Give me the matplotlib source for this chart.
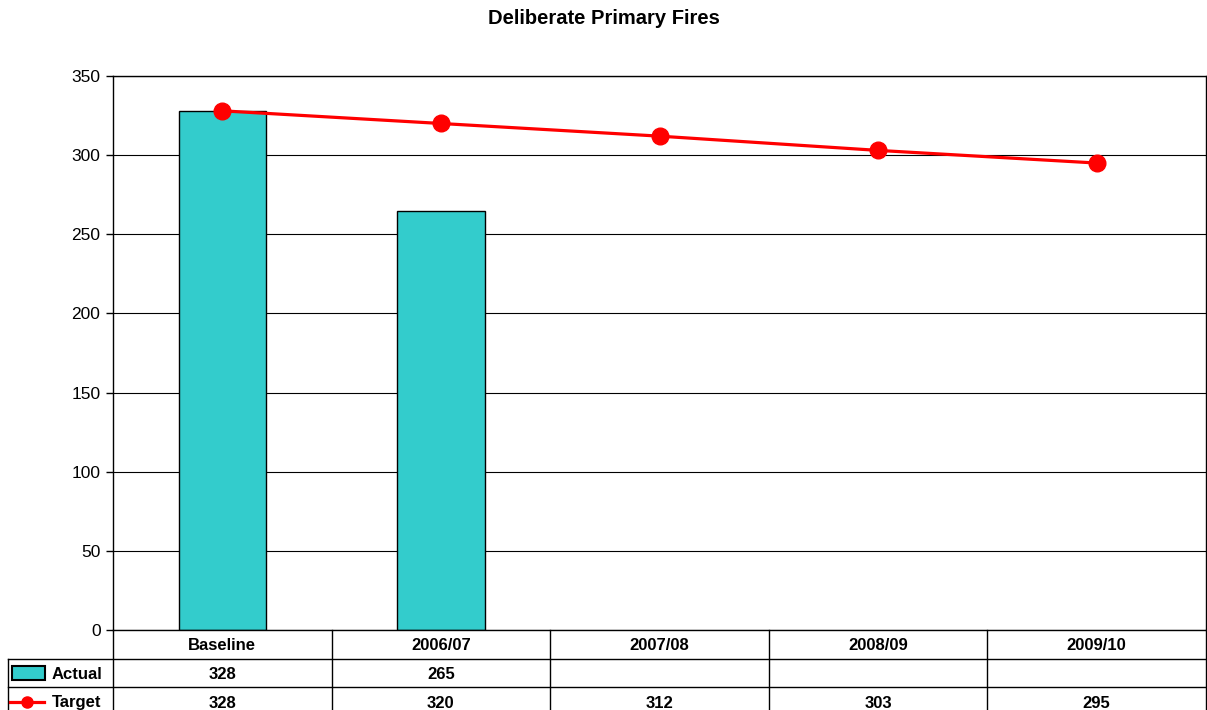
import matplotlib
matplotlib.use("Agg")
import matplotlib.pyplot as plt
from matplotlib.lines import Line2D
from matplotlib.patches import Rectangle
from matplotlib.transforms import blended_transform_factory

plt.rcParams["font.family"] = ["Liberation Sans", "DejaVu Sans"]

categories = ["Baseline", "2006/07", "2007/08", "2008/09", "2009/10"]
actual = [328, 265, None, None, None]
target = [328, 320, 312, 303, 295]

BAR_COLOR = "#33CCCC"
LINE_COLOR = "#FF0000"

fig = plt.figure(figsize=(12.07, 7.1), dpi=100)
ax = fig.add_axes([113 / 1207, 80 / 710, 1093 / 1207, 554 / 710])

xs = list(range(len(categories)))
bar_x = [x for x, v in zip(xs, actual) if v is not None]
bar_v = [v for v in actual if v is not None]
ax.bar(bar_x, bar_v, width=0.4, color=BAR_COLOR, edgecolor="black",
       linewidth=1, zorder=2)
ax.plot(xs, target, color=LINE_COLOR, lw=2.3, marker="o", markersize=12,
        zorder=3, clip_on=False)

ax.set_xlim(-0.5, len(categories) - 0.5)
ax.set_ylim(0, 350)
ax.set_yticks(range(0, 351, 50))
ax.set_xticks([])
ax.tick_params(axis="y", labelsize=12.5, length=5, width=1, direction="out",
               pad=4)
ax.yaxis.grid(True, color="black", lw=0.8)
ax.set_axisbelow(True)
for sp in ax.spines.values():
    sp.set_color("black")
    sp.set_linewidth(1)

fig.text(0.5, 1 - 19 / 710, "Deliberate Primary Fires", ha="center",
         va="center", fontsize=14.5, fontweight="bold")

# data table under the plot area: x in data units, y in axes units
tr = blended_transform_factory(ax.transData, ax.transAxes)
px = 1 / 554
row_edges = [0, -29 * px, -57 * px, -90 * px]
label_left = -0.5 - 105 / (1093 / len(categories))
right = len(categories) - 0.5

def hline(y, x0, x1):
    ax.add_line(Line2D([x0, x1], [y, y], transform=tr, color="black",
                       lw=1, clip_on=False))

def vline(x, y0, y1):
    ax.add_line(Line2D([x, x], [y0, y1], transform=tr, color="black",
                       lw=1, clip_on=False))

hline(row_edges[1], label_left, right)
hline(row_edges[2], label_left, right)
for i in range(len(categories) + 1):
    vline(i - 0.5, row_edges[0], row_edges[3])
vline(label_left, row_edges[1], row_edges[3])

def mid(r):
    return (row_edges[r] + row_edges[r + 1]) / 2

txt = dict(transform=tr, ha="center", va="center", fontsize=12,
           fontweight="bold")
for x, c, a, t in zip(xs, categories, actual, target):
    ax.text(x, mid(0) - 1 * px, c, **txt)
    if a is not None:
        ax.text(x, mid(1) - 1.5 * px, str(a), **txt)
    ax.text(x, mid(2) - 0.5 * px, str(t), **txt)

# legend keys in the row-label column
col_px = 1093 / len(categories)
def lx(p):
    return label_left + p / col_px

ax.add_patch(Rectangle((lx(4), mid(1) - 7 * px), 33 / col_px, 14 * px,
                       transform=tr, facecolor=BAR_COLOR, edgecolor="black",
                       lw=1.5, clip_on=False))
ax.text(lx(44), mid(1) - 1.5 * px, "Actual", transform=tr, ha="left",
        va="center", fontsize=12, fontweight="bold")
ky = row_edges[2] - 15 * px
ax.add_line(Line2D([lx(2), lx(36)], [ky, ky], transform=tr, color=LINE_COLOR,
                   lw=2.3, clip_on=False))
ax.add_line(Line2D([lx(19)], [ky], transform=tr, color=LINE_COLOR,
                   marker="o", markersize=8, clip_on=False))
ax.text(lx(44), ky - 1 * px, "Target", transform=tr, ha="left", va="center",
        fontsize=12, fontweight="bold")

fig.savefig("out.png", dpi=100)
